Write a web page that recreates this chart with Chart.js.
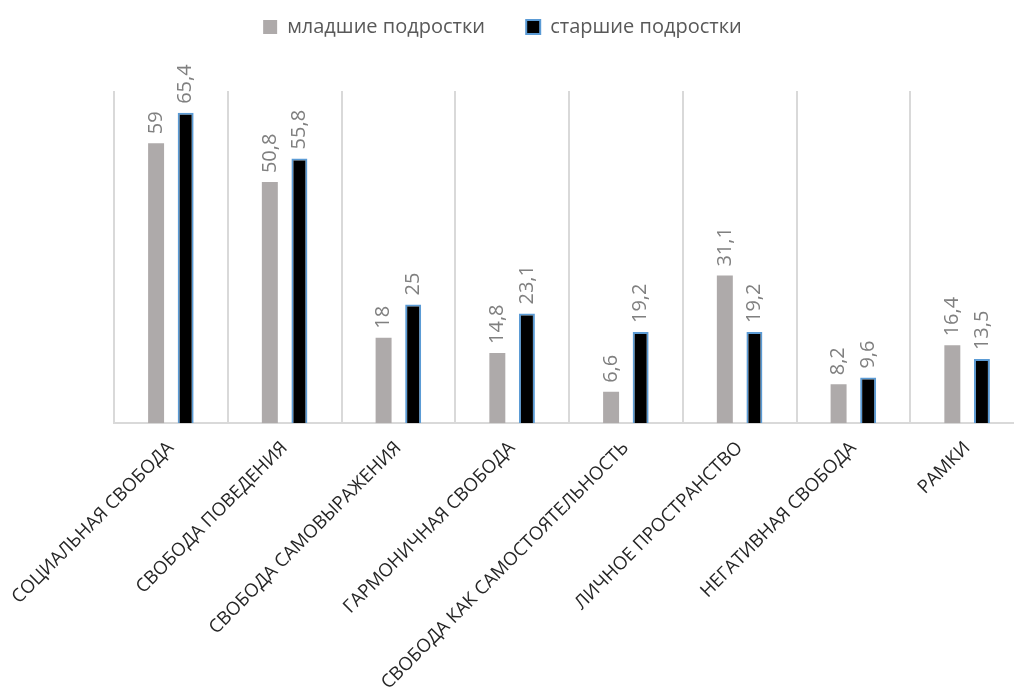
<!DOCTYPE html>
<html>
<head>
<meta charset="utf-8">
<script src="https://cdn.jsdelivr.net/npm/chart.js@4"></script>
<style>
  html, body { margin: 0; padding: 0; background: #fff; overflow: hidden; }
  #wrap { width: 1026px; height: 708px; }
</style>
</head>
<body>
<div id="wrap"><canvas id="chart"></canvas></div>
<script>
/* ================= DATA ================= */
const categories = [
  "СОЦИАЛЬНАЯ СВОБОДА",
  "СВОБОДА ПОВЕДЕНИЯ",
  "СВОБОДА САМОВЫРАЖЕНИЯ",
  "ГАРМОНИЧНАЯ СВОБОДА",
  "СВОБОДА КАК САМОСТОЯТЕЛЬНОСТЬ",
  "ЛИЧНОЕ ПРОСТРАНСТВО",
  "НЕГАТИВНАЯ СВОБОДА",
  "РАМКИ"
];
const younger = [59, 50.8, 18, 14.8, 6.6, 31.1, 8.2, 16.4];
const older = [65.4, 55.8, 25, 23.1, 19.2, 19.2, 9.6, 13.5];
const seriesNames = ["младшие подростки", "старшие подростки"];

/* ================= VALUE LABELS ================= */
const valueLabels = {
  id: "valueLabels",
  afterDatasetsDraw(chart) {
    const ctx = chart.ctx;
    chart.data.datasets.forEach((ds, i) => {
      const meta = chart.getDatasetMeta(i);
      meta.data.forEach((bar, j) => {
        ctx.save();
        ctx.translate(bar.x, bar.y - 9);
        ctx.rotate(-Math.PI / 2);
        ctx.font = "20px 'Open Sans'";
        ctx.fillStyle = "#808080";
        ctx.textAlign = "left";
        ctx.textBaseline = "middle";
        ctx.fillText(String(ds.data[j]).replace(".", ","), 0, 0);
        ctx.restore();
      });
    });
  }
};

/* extra room under the legend */
const legendGap = {
  id: "legendGap",
  beforeInit(chart) {
    const fit = chart.legend.fit;
    chart.legend.fit = function () {
      fit.bind(chart.legend)();
      this.height += 44;
    };
  }
};

// trailing spaces only widen the gaps between legend entries
const legendPad = ["      ", "           "];

/* ================= CHART ================= */
new Chart(document.getElementById("chart"), {
  type: "bar",
  data: {
    labels: categories,
    datasets: [
      {
        label: seriesNames[0],
        data: younger,
        backgroundColor: "#aeaaaa",
        borderWidth: 0
      },
      {
        label: seriesNames[1],
        data: older,
        backgroundColor: "#000000",
        borderColor: "#5b9bd5",
        borderWidth: 2
      }
    ]
  },
  plugins: [valueLabels, legendGap],
  options: {
    responsive: true,
    maintainAspectRatio: false,
    animation: false,
    categoryPercentage: 0.52,
    barPercentage: 0.54,
    layout: { padding: { left: 38, right: 2, top: 7, bottom: 0 } },
    plugins: {
      legend: {
        position: "top",
        labels: {
          font: { family: "Open Sans", size: 20 },
          color: "#595959",
          boxWidth: 14,
          boxHeight: 14,
          padding: 10,
          generateLabels(chart) {
            const items = Chart.defaults.plugins.legend.labels.generateLabels(chart);
            items.forEach((it, i) => { it.text = it.text + legendPad[i]; });
            return items;
          }
        }
      },
      tooltip: { enabled: false }
    },
    scales: {
      x: {
        grid: { display: true, offset: true, color: "#d9d9d9", lineWidth: 2, drawTicks: false },
        border: { color: "#d9d9d9", width: 2 },
        ticks: {
          color: "#262626",
          font: { family: "Open Sans", size: 18.5 },
          minRotation: 45,
          maxRotation: 45,
          padding: 14
        },
        afterFit(scale) { scale.paddingLeft = 0; }
      },
      y: {
        display: true,
        min: 0,
        max: 70,
        grid: { display: false },
        border: { display: false },
        ticks: { display: false },
        afterFit(scale) { scale.width = 76; }
      }
    }
  }
});
</script>
</body>
</html>
